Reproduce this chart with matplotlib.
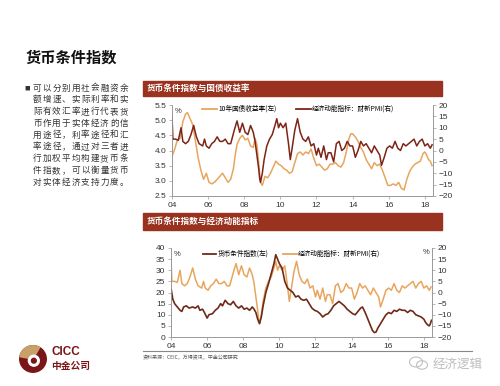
# slide: 货币条件指数 (CICC)

import matplotlib
matplotlib.use("Agg")
import matplotlib.pyplot as plt
from matplotlib.patches import Rectangle, Circle, Wedge, Ellipse
from matplotlib.lines import Line2D

#####################################################################

# DATA

# 10y government bond yield, % (left axis, top chart)
t_yld = [2004.0, 2004.15, 2004.3, 2004.45, 2004.6, 2004.75, 2004.85,
         2005.0, 2005.15, 2005.3, 2005.45, 2005.6, 2005.75, 2005.9,
         2006.05, 2006.2, 2006.35, 2006.5, 2006.65, 2006.8, 2006.95,
         2007.1, 2007.25, 2007.4, 2007.5, 2007.6, 2007.75, 2007.9,
         2008.05, 2008.2, 2008.35, 2008.5, 2008.6, 2008.7, 2008.8, 2008.9,
         2009.0, 2009.15, 2009.3, 2009.45, 2009.6, 2009.75, 2009.9,
         2010.05, 2010.2, 2010.35, 2010.5, 2010.65, 2010.8, 2010.95,
         2011.1, 2011.25, 2011.4, 2011.55, 2011.7, 2011.85,
         2012.0, 2012.15, 2012.3, 2012.45, 2012.6, 2012.75, 2012.9,
         2013.05, 2013.2, 2013.35, 2013.5, 2013.65, 2013.8, 2013.9,
         2014.0, 2014.15, 2014.3, 2014.45, 2014.6, 2014.75, 2014.9,
         2015.05, 2015.2, 2015.35, 2015.5, 2015.65, 2015.8, 2015.95,
         2016.1, 2016.25, 2016.4, 2016.55, 2016.7, 2016.85,
         2017.0, 2017.15, 2017.3, 2017.45, 2017.6, 2017.75, 2017.9,
         2018.0, 2018.1, 2018.2, 2018.3, 2018.4]
yld10 = [3.80, 4.05, 4.35, 4.40, 4.95, 5.20, 5.25,
         5.05, 4.85, 4.30, 3.75, 3.35, 3.05, 3.25,
         2.95, 2.90, 2.95, 3.05, 3.15, 3.25, 3.10,
         2.95, 3.05, 3.40, 3.85, 4.20, 4.40, 4.50,
         4.35, 4.40, 4.15, 4.10, 4.40, 4.20, 3.60, 2.95,
         2.85, 3.15, 3.10, 3.25, 3.45, 3.65, 3.55,
         3.50, 3.40, 3.35, 3.25, 3.30, 3.60, 3.90,
         3.95, 3.85, 3.95, 3.90, 4.05, 3.75,
         3.50, 3.55, 3.45, 3.35, 3.40, 3.55, 3.55,
         3.60, 3.50, 3.45, 3.60, 3.95, 4.40, 4.55,
         4.55, 4.45, 4.30, 4.10, 3.95, 3.70, 3.55,
         3.40, 3.60, 3.50, 3.55, 3.35, 3.10, 2.85,
         2.85, 2.90, 2.85, 2.95, 2.75, 2.70,
         3.05, 3.30, 3.45, 3.55, 3.60, 3.65, 3.90,
         3.95, 3.85, 3.70, 3.65, 3.50]

# economic momentum: Caixin PMI, % (right axis, both charts)
t_pmi = [2004.0, 2004.05, 2004.2, 2004.35, 2004.5, 2004.6, 2004.75, 2004.9,
         2005.05, 2005.2, 2005.35, 2005.5, 2005.7, 2005.8, 2005.9,
         2006.05, 2006.2, 2006.35, 2006.5, 2006.65, 2006.8, 2006.95,
         2007.1, 2007.25, 2007.45, 2007.6, 2007.75, 2007.9,
         2008.05, 2008.2, 2008.35, 2008.5, 2008.6, 2008.7, 2008.8, 2008.85, 2008.9,
         2009.0, 2009.1, 2009.25, 2009.4, 2009.55, 2009.7, 2009.8, 2009.9,
         2010.0, 2010.15, 2010.3, 2010.45, 2010.55, 2010.65, 2010.8, 2010.95,
         2011.1, 2011.25, 2011.4, 2011.55, 2011.7, 2011.85,
         2012.0, 2012.1, 2012.25, 2012.4, 2012.55, 2012.65, 2012.8, 2012.95,
         2013.1, 2013.25, 2013.4, 2013.55, 2013.7, 2013.85,
         2014.0, 2014.15, 2014.3, 2014.45, 2014.6, 2014.75, 2014.9,
         2015.05, 2015.2, 2015.35, 2015.5, 2015.6, 2015.75, 2015.9,
         2016.05, 2016.2, 2016.35, 2016.5, 2016.65, 2016.8, 2016.95,
         2017.1, 2017.25, 2017.4, 2017.55, 2017.7, 2017.85,
         2018.0, 2018.15, 2018.3, 2018.4]
pmi = [15, 5, 5, 4.5, 10, 4, 3, 4,
       7, 11, 6, 3, 2, 5, 2,
       1, 3, 4, 6, 4, 4, 5,
       3, 3, 9, 13, 8, 12,
       8, 7, 11, 8, 4, -2, -8, -12, -14,
       -10, -4, 2, 5, 7, 11, 14, 10,
       12, 10, 12, 3, -4, 1, 9, 14,
       8, 5, 4, 6, 2, 3,
       -2, 1, -3, 2, -4, -1, -1, -5,
       3, 4, 0, 1, 4, 2,
       2, -3, 0, 4, 2, 3, 1,
       -1, 2, 0, -2, -6.5, -3, 1,
       2, 1, 4, 1, 0, 3, 2,
       3, 4, 5, 2, 4, 5,
       2, 3, 1, 2.5]

# monetary condition index, % (left axis, bottom chart)
t_mci = [2004.0, 2004.1, 2004.2, 2004.4, 2004.5, 2004.6, 2004.7, 2004.85,
         2005.0, 2005.2, 2005.35, 2005.5, 2005.6, 2005.75, 2005.85,
         2006.0, 2006.1, 2006.3, 2006.45, 2006.6, 2006.75, 2006.85,
         2007.0, 2007.15, 2007.3, 2007.45, 2007.6, 2007.75, 2007.9,
         2008.05, 2008.2, 2008.35, 2008.5, 2008.6, 2008.7, 2008.8, 2008.9,
         2009.0, 2009.1, 2009.25, 2009.4, 2009.5, 2009.6, 2009.7, 2009.8, 2009.9,
         2010.0, 2010.15, 2010.3, 2010.45, 2010.6, 2010.75, 2010.9,
         2011.05, 2011.2, 2011.35, 2011.5, 2011.65, 2011.8, 2011.95,
         2012.1, 2012.25, 2012.4, 2012.55, 2012.7, 2012.85,
         2013.0, 2013.15, 2013.3, 2013.45, 2013.6, 2013.75, 2013.9,
         2014.05, 2014.2, 2014.35, 2014.5, 2014.6, 2014.75, 2014.9,
         2015.05, 2015.15, 2015.25, 2015.35, 2015.45, 2015.6, 2015.75, 2015.9,
         2016.05, 2016.2, 2016.35, 2016.5, 2016.65, 2016.8, 2016.95,
         2017.1, 2017.25, 2017.4, 2017.55, 2017.7, 2017.85,
         2018.0, 2018.1, 2018.2, 2018.3, 2018.36, 2018.42]
mci = [22, 17, 15, 13, 12, 11.5, 13.5, 14,
       13, 13.5, 13, 14, 12, 12.5, 11,
       8.5, 10, 10.5, 12, 13, 15, 14,
       16.5, 15, 14.5, 16, 14, 13, 14,
       12.5, 13, 12, 13.5, 12.5, 11, 8, 6,
       9, 14, 20, 24, 27, 30, 33, 37, 35,
       33, 31, 25, 22, 21, 20, 18,
       18.5, 17, 16.5, 17, 15, 13, 12,
       11.5, 10.5, 9, 10, 10.5, 12,
       14, 15, 16, 15, 14, 12.5, 11.5,
       10.5, 10, 11.5, 13, 13.5, 11, 8,
       5, 3, 2, 2.2, 4, 6, 8, 10,
       11, 10.5, 12, 11.5, 12.5, 12, 12,
       11, 12, 11.5, 10, 9.5, 9,
       8, 6.5, 5.5, 5, 6, 7.5]

xticks  = [2004, 2006, 2008, 2010, 2012, 2014, 2016, 2018]
xlabels = ["04", "06", "08", "10", "12", "14", "16", "18"]

bullet = ["可以分别用社会融资余",
          "额增速、实际利率和实",
          "际有效汇率进行代表货",
          "币作用于实体经济的信",
          "用途径，利率途径和汇",
          "率途径，通过对三者进",
          "行加权平均构建货币条",
          "件指数，可以衡量货币",
          "对实体经济支持力度。"]

#####################################################################

# STYLE

W, H = 500, 386
CJK = ["Noto Sans CJK SC", "DejaVu Sans"]
plt.rcParams["font.family"] = ["Liberation Sans", "Noto Sans CJK SC"]

ORANGE = "#E8A55E"
DARK   = "#7E2416"
BROWN  = "#6E2A17"
BAR    = "#9A3220"
GREY   = "#9a9a9a"
TXT    = "#333333"

def fx(px): return px / W
def fy(py): return 1 - py / H

def setup(ax, tw, left_lim, left_ticks, fmt):
    ax.set_xlim(2004, 2018.45)
    ax.set_xticks(xticks)
    ax.set_xticklabels(xlabels)
    ax.set_ylim(*left_lim)
    ax.set_yticks(left_ticks)
    ax.set_yticklabels([fmt % v for v in left_ticks])
    tw.set_ylim(-20, 20)
    tw.set_yticks(range(-20, 21, 5))
    for a in (ax, tw):
        for s in a.spines.values():
            s.set_color(GREY)
            s.set_linewidth(0.6)
        a.spines["top"].set_visible(False)
        a.tick_params(labelsize=6, colors=TXT, length=2, width=0.5, pad=2)
        a.tick_params(axis="both", color=GREY)

fig = plt.figure(figsize=(W / 100, H / 100), dpi=100)

#####################################################################

# LEFT TEXT BLOCK

fig.text(fx(26), fy(58), "货币条件指数", family=CJK, fontsize=11,
         weight="bold", color="#111111", va="center", ha="left")
fig.text(fx(24), fy(88), "■", family=CJK, fontsize=4, color=TXT,
         va="center", ha="left")
for i, line in enumerate(bullet):
    for j, ch in enumerate(line):
        fig.text(fx(33 + j * 9.6), fy(88 + i * 11.75), ch, family=CJK,
                 fontsize=6.2, color=TXT, va="center", ha="left")

#####################################################################

# HEADER BARS

for y0, y1, title in [(81, 96, "货币条件指数与国债收益率"),
                      (213, 230, "货币条件指数与经济动能指标")]:
    fig.patches.append(Rectangle((fx(143), fy(y1)), fx(442) - fx(143),
                                 fy(y0) - fy(y1), transform=fig.transFigure,
                                 color=BAR, zorder=0))
    fig.text(fx(147), fy((y0 + y1) / 2), title, family=CJK, fontsize=6.2,
             color="white", va="center", ha="left", weight="bold")

#####################################################################

# TOP CHART

ax = fig.add_axes([fx(172), fy(196), fx(433) - fx(172), fy(105) - fy(196)])
tw = ax.twinx()
setup(ax, tw, (2.5, 5.5), [2.5, 3.0, 3.5, 4.0, 4.5, 5.0, 5.5], "%.1f")
ax.plot(t_yld, yld10, color=ORANGE, lw=1.1)
tw.plot(t_pmi, pmi, color=DARK, lw=1.1)
ax.text(0.01, 0.97, "%", transform=ax.transAxes, fontsize=5.5, color=TXT,
        va="top", ha="left")

h = [Line2D([], [], color=ORANGE, lw=1.3), Line2D([], [], color=DARK, lw=1.3)]
tw.legend(h, ["10年国债收益率(左)", "经济动能指标：财新PMI(右)"],
          loc="center left", bbox_to_anchor=(fx(202), fy(109)),
          bbox_transform=fig.transFigure, ncol=2, frameon=False,
          prop={"family": CJK, "size": 4.8}, handlelength=2.3,
          handletextpad=0.2, columnspacing=2.8, borderpad=0,
          borderaxespad=0)

#####################################################################

# BOTTOM CHART

ax = fig.add_axes([fx(171), fy(337), fx(432) - fx(171), fy(248) - fy(337)])
tw = ax.twinx()
setup(ax, tw, (0, 40), list(range(0, 41, 5)), "%d")
tw.plot(t_pmi, pmi, color=ORANGE, lw=1.1)
ax.plot(t_mci, mci, color=BROWN, lw=1.2)
ax.set_zorder(tw.get_zorder() + 1)
ax.patch.set_visible(False)
ax.text(0.01, 0.97, "%", transform=ax.transAxes, fontsize=5.5, color=TXT,
        va="top", ha="left")
ax.text(0.99, 0.99, "%", transform=ax.transAxes, fontsize=5.5, color=TXT,
        va="top", ha="right")

h = [Line2D([], [], color=BROWN, lw=1.3), Line2D([], [], color=ORANGE, lw=1.3)]
ax.legend(h, ["货币条件指数(左)", "经济动能指标：财新PMI(右)"],
          loc="center left", bbox_to_anchor=(fx(203), fy(254)),
          bbox_transform=fig.transFigure, ncol=2, frameon=False,
          prop={"family": CJK, "size": 4.8}, handlelength=2.0,
          handletextpad=0.2, columnspacing=2.2, borderpad=0,
          borderaxespad=0)

# rule + source
fig.lines.append(Line2D([fx(143), fx(472)], [fy(351), fy(351)],
                        transform=fig.transFigure, color="#888888", lw=0.8))
fig.text(fx(143), fy(358), "资料来源：CEIC，万得资讯，中金公司研究",
         family=CJK, fontsize=3.6, color="#555555", va="center", ha="left")

#####################################################################

# LOGO AND WATERMARK

lg = fig.add_axes([fx(16), fy(376), fx(34), 34 / H])
lg.set_xlim(-1, 1); lg.set_ylim(-1, 1); lg.set_aspect("equal"); lg.axis("off")
lg.add_patch(Circle((0, 0), 0.78, color="#7A1518"))
lg.add_patch(Wedge((0, 0), 0.78, 60, 170, color="#C9A06A"))
lg.add_patch(Circle((0.05, -0.1), 0.32, color="white"))
lg.add_patch(Circle((0.05, -0.1), 0.14, color="#7A1518"))
fig.text(fx(51), fy(352), "CICC", fontsize=8.5, weight="bold",
         color="#7A1518", va="center", ha="left")
fig.text(fx(51), fy(366), "中金公司", family=CJK, fontsize=7, weight="bold",
         color="#7A1518", va="center", ha="left")

wc = fig.add_axes([fx(408), fy(372), fx(22), 18 / H])
wc.set_xlim(0, 22); wc.set_ylim(0, 18); wc.set_aspect("equal"); wc.axis("off")
wc.add_patch(Ellipse((8, 10), 13, 10, fill=False, ec="#c0c0c0", lw=0.8))
wc.add_patch(Ellipse((14, 7), 11, 8.5, fill=False, ec="#c0c0c0", lw=0.8))
fig.text(fx(433), fy(364), "经济逻辑", family=CJK, fontsize=9,
         color="#bdbdbd", va="center", ha="left")

fig.savefig("out.png", dpi=100)
